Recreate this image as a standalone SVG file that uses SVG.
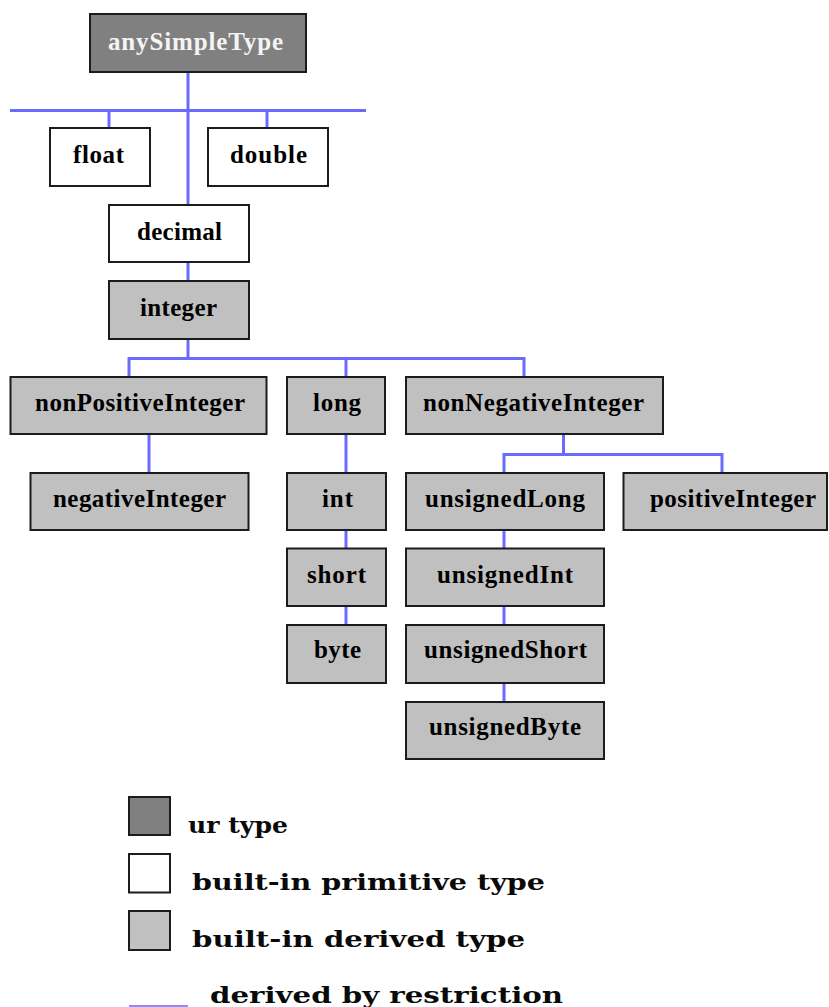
<svg xmlns="http://www.w3.org/2000/svg" width="829" height="1007" viewBox="0 0 829 1007">
  <style>
    .box { stroke: #1c1c1c; stroke-width: 2; }
    .ur { fill: #808080; }
    .prim { fill: #ffffff; }
    .der { fill: #c0c0c0; }
    .lbl { font-family: "Liberation Serif", "Times New Roman", serif; font-weight: bold; font-size: 25px; fill: #000; }
    .lbl-ur { fill: #f4f4f4; }
    .leg { font-family: "DejaVu Serif", "Liberation Serif", serif; font-weight: bold; font-size: 23px; fill: #0a0a0a; }
    .wire { stroke: #6a6aff; stroke-width: 3; fill: none; }
  </style>
  <rect width="829" height="1007" fill="#ffffff"/>

  <!-- derivation connectors -->
  <g id="connectors" class="wire">
    <path d="M188 72 V205"/>
    <path d="M10 110.5 H366"/>
    <path d="M109 110.5 V128"/>
    <path d="M267 110.5 V128"/>
    <path d="M188 262 V281"/>
    <path d="M188 339 V358.5"/>
    <path d="M129 377 V358.5 H524 V377"/>
    <path d="M346 358.5 V377"/>
    <path d="M149 434 V473"/>
    <path d="M346 434 V473"/>
    <path d="M346 530 V548.5"/>
    <path d="M346 606 V625"/>
    <path d="M563.5 434 V454.5"/>
    <path d="M504 473 V454.5 H722 V473"/>
    <path d="M504 530 V548.5"/>
    <path d="M504 606 V625"/>
    <path d="M504 683 V702"/>
  </g>

  <g id="anySimpleType">
    <rect class="box ur" x="90" y="14" width="216" height="58"/>
    <text class="lbl lbl-ur" x="108" y="50" textLength="175" lengthAdjust="spacing">anySimpleType</text>
  </g>
  <g id="float">
    <rect class="box prim" x="50" y="128" width="100" height="58"/>
    <text class="lbl" x="73" y="163" textLength="51" lengthAdjust="spacing">float</text>
  </g>
  <g id="double">
    <rect class="box prim" x="208" y="128" width="120" height="58"/>
    <text class="lbl" x="230" y="163" textLength="77" lengthAdjust="spacing">double</text>
  </g>
  <g id="decimal">
    <rect class="box prim" x="109" y="205" width="140" height="57"/>
    <text class="lbl" x="137" y="240" textLength="85" lengthAdjust="spacing">decimal</text>
  </g>
  <g id="integer">
    <rect class="box der" x="109" y="281" width="140" height="58"/>
    <text class="lbl" x="140" y="316" textLength="77" lengthAdjust="spacing">integer</text>
  </g>
  <g id="nonPositiveInteger">
    <rect class="box der" x="10.5" y="377" width="256" height="57"/>
    <text class="lbl" x="35" y="411" textLength="210" lengthAdjust="spacing">nonPositiveInteger</text>
  </g>
  <g id="long">
    <rect class="box der" x="287" y="377" width="98" height="57"/>
    <text class="lbl" x="313" y="411" textLength="48" lengthAdjust="spacing">long</text>
  </g>
  <g id="nonNegativeInteger">
    <rect class="box der" x="406" y="377" width="257" height="57"/>
    <text class="lbl" x="423" y="411" textLength="221" lengthAdjust="spacing">nonNegativeInteger</text>
  </g>
  <g id="negativeInteger">
    <rect class="box der" x="30.5" y="473" width="218" height="57"/>
    <text class="lbl" x="53" y="507" textLength="173" lengthAdjust="spacing">negativeInteger</text>
  </g>
  <g id="int">
    <rect class="box der" x="287" y="473" width="99" height="57"/>
    <text class="lbl" x="322" y="507" textLength="31" lengthAdjust="spacing">int</text>
  </g>
  <g id="unsignedLong">
    <rect class="box der" x="406" y="473" width="198" height="57"/>
    <text class="lbl" x="425" y="507" textLength="160" lengthAdjust="spacing">unsignedLong</text>
  </g>
  <g id="positiveInteger">
    <rect class="box der" x="623.5" y="473" width="203.5" height="57"/>
    <text class="lbl" x="650" y="507" textLength="166" lengthAdjust="spacing">positiveInteger</text>
  </g>
  <g id="short">
    <rect class="box der" x="287" y="548.5" width="99" height="57.5"/>
    <text class="lbl" x="307" y="583" textLength="59" lengthAdjust="spacing">short</text>
  </g>
  <g id="unsignedInt">
    <rect class="box der" x="406" y="548.5" width="198" height="57.5"/>
    <text class="lbl" x="437" y="583" textLength="136" lengthAdjust="spacing">unsignedInt</text>
  </g>
  <g id="byte">
    <rect class="box der" x="287" y="625" width="99" height="58"/>
    <text class="lbl" x="314" y="658" textLength="47" lengthAdjust="spacing">byte</text>
  </g>
  <g id="unsignedShort">
    <rect class="box der" x="406" y="625" width="198" height="58"/>
    <text class="lbl" x="424" y="658" textLength="163" lengthAdjust="spacing">unsignedShort</text>
  </g>
  <g id="unsignedByte">
    <rect class="box der" x="406" y="702" width="198" height="57"/>
    <text class="lbl" x="429" y="735" textLength="152" lengthAdjust="spacing">unsignedByte</text>
  </g>

  <!-- key -->
  <g id="legend">
    <rect class="box ur" x="129" y="797" width="41" height="38"/>
    <text class="leg" x="188" y="833" textLength="100" lengthAdjust="spacingAndGlyphs">ur type</text>
    <rect class="box prim" x="129" y="854" width="41" height="38.5"/>
    <text class="leg" x="192" y="890" textLength="353" lengthAdjust="spacingAndGlyphs">built-in primitive type</text>
    <rect class="box der" x="129" y="911" width="41" height="39"/>
    <text class="leg" x="192" y="946.5" textLength="333" lengthAdjust="spacingAndGlyphs">built-in derived type</text>
    <line x1="129" y1="1006" x2="188" y2="1006" stroke="#8c8cff" stroke-width="2"/>
    <text class="leg" x="210" y="1002.5" textLength="353" lengthAdjust="spacingAndGlyphs">derived by restriction</text>
  </g>
</svg>
